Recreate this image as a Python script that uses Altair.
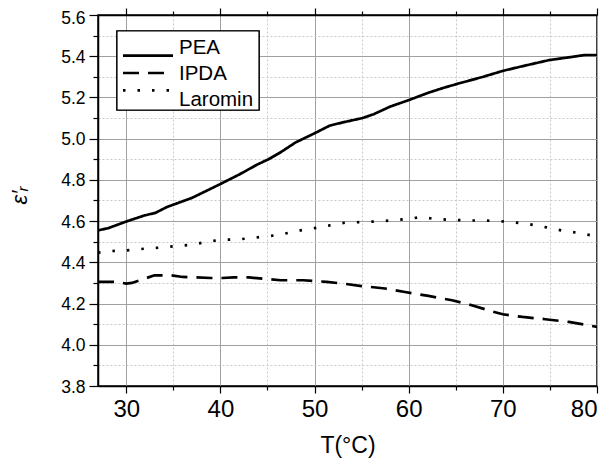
import altair as alt
import pandas as pd

T_PEA = [27, 28.1, 30, 31.9, 33.1, 34.3, 37, 40, 42, 43.9, 45.1, 46.4, 48, 50, 51.6, 53, 55.1, 56.3, 58, 60,
         62.1, 63.8, 65.4, 67.9, 70, 72.5, 74.9, 77.4, 78.7, 80]
E_PEA = [4.555, 4.566, 4.598, 4.627, 4.64, 4.668, 4.713, 4.78, 4.826, 4.874, 4.90, 4.934, 4.982, 5.026, 5.063,
         5.079, 5.10, 5.119, 5.155, 5.187, 5.223, 5.248, 5.269, 5.30, 5.329, 5.356, 5.381, 5.397, 5.406, 5.406]

T_IPDA = [27, 29, 30, 30.6, 31.9, 33, 34.8, 36, 39, 40.2, 41.4, 43, 44.7, 46.4, 48.8, 51.3, 53, 55, 57.5,
          59.6, 62.1, 64.6, 66.7, 68.7, 70, 72.1, 74.5, 77, 80]
E_IPDA = [4.305, 4.305, 4.297, 4.30, 4.32, 4.337, 4.337, 4.329, 4.324, 4.324, 4.327, 4.327, 4.32, 4.313, 4.313,
          4.305, 4.297, 4.285, 4.273, 4.256, 4.237, 4.216, 4.192, 4.164, 4.148, 4.135, 4.124, 4.111, 4.087]

T_LAR = [27, 28.5, 30, 31.9, 33.5, 35.2, 36.9, 39, 40.2, 41.9, 43.5, 45.2, 46.8, 48.5, 50, 51.6, 53.2, 54.8,
         56.5, 58.2, 59.8, 61.3, 62.9, 64.6, 66.3, 67.9, 69.6, 71.2, 72.9, 74.5, 76.2, 77.8, 80]
E_LAR = [4.447, 4.455, 4.458, 4.466, 4.471, 4.479, 4.485, 4.503, 4.51, 4.511, 4.519, 4.527, 4.539, 4.555, 4.566,
         4.579, 4.592, 4.595, 4.598, 4.603, 4.61, 4.619, 4.61, 4.606, 4.603, 4.603, 4.60, 4.594, 4.584, 4.571,
         4.555, 4.544, 4.526]

SERIES = ["PEA", "IPDA", "Laromin"]
DASHES = [[1, 0], [16, 9], [2.5, 12]]
X_TICKS = [30, 35, 40, 45, 50, 55, 60, 65, 70, 75, 80]
Y_TICKS = [3.8, 3.9, 4.0, 4.1, 4.2, 4.3, 4.4, 4.5, 4.6, 4.7, 4.8, 4.9, 5.0, 5.1, 5.2, 5.3, 5.4, 5.5, 5.6]

rows = []
for name, ts, es in [("PEA", T_PEA, E_PEA), ("IPDA", T_IPDA, E_IPDA), ("Laromin", T_LAR, E_LAR)]:
    for t, e in zip(ts, es):
        rows.append({"T": t, "E": e, "Series": name})
df = pd.DataFrame(rows)
leg_df = pd.DataFrame({"Series": SERIES})

FONT = "Liberation Sans"
x_major = "datum.value % 10 == 0"
y_major = "abs(round(datum.value * 10) % 2) == 0"

x_axis = alt.Axis(
    orient="bottom", values=X_TICKS, title="T(°C)",
    labelExpr=f"{x_major} ? datum.value : ''",
    tickSize={"condition": {"test": x_major, "value": 7}, "value": 4},
    gridDash={"condition": {"test": x_major, "value": []}, "value": [2, 2]},
    gridColor={"condition": {"test": x_major, "value": "#a0a0a0"}, "value": "#c8c8c8"},
    grid=True, tickColor="black", domainColor="black", domainWidth=1.5, tickWidth=1.2,
    labelFont=FONT, labelFontSize=24, labelColor="black", labelPadding=4,
    titleFont=FONT, titleFontSize=23, titleFontWeight="normal", titleColor="black",
    titleBaseline="alphabetic", titleY=66,
)
y_axis = alt.Axis(
    orient="left", values=Y_TICKS, title="ε′ᵣ",
    labelExpr=f"{y_major} ? format(datum.value, '.1f') : ''",
    tickSize={"condition": {"test": y_major, "value": 9}, "value": 5},
    gridDash={"condition": {"test": y_major, "value": []}, "value": [2, 2]},
    gridColor={"condition": {"test": y_major, "value": "#a0a0a0"}, "value": "#c8c8c8"},
    grid=True, tickColor="black", domainColor="black", domainWidth=1.5, tickWidth=1.2,
    labelFont=FONT, labelFontSize=17.5, labelColor="black", labelPadding=4,
    labelOffset={"condition": {"test": "datum.value > 5.55", "value": 3.5}, "value": 1},
    titleFont=FONT, titleFontSize=22, titleFontWeight="normal", titleFontStyle="italic",
    titleColor="black", titleX=-72, titleY=180, titleBaseline="alphabetic", titleAngle=-90,
    titleAlign="center",
)

xs = alt.Scale(domain=[27, 80], nice=False, zero=False)
ys = alt.Scale(domain=[3.8, 5.6], nice=False, zero=False)
dash_scale = alt.Scale(domain=SERIES, range=DASHES)

lines = alt.Chart(df).mark_line(color="black", strokeWidth=2.7, clip=True).encode(
    x=alt.X("T:Q", scale=xs, axis=x_axis),
    y=alt.Y("E:Q", scale=ys, axis=y_axis),
    strokeDash=alt.StrokeDash("Series:N", scale=dash_scale, sort=SERIES, legend=None),
    order=alt.Order("T:Q"),
)

top = alt.Chart(df).mark_line(opacity=0).encode(
    x=alt.X("T:Q", scale=xs, axis=alt.Axis(
        orient="top", values=X_TICKS, labels=False, title=None, grid=False,
        tickSize={"condition": {"test": x_major, "value": 7}, "value": 4},
        tickColor="black", domainColor="black", domainWidth=1.5, tickWidth=1.2)),
    y=alt.Y("E:Q", scale=ys, axis=None),
)

# legend (box, sample lines, labels)
leg_y = alt.Y("Series:N", scale=alt.Scale(domain=SERIES, range=[32, 84], padding=0), axis=None)

leg_box = alt.Chart(leg_df).mark_rect(fill="white", stroke="black", strokeWidth=1.2).encode(
    x=alt.value(19), x2=alt.value(161), y=alt.value(16), y2=alt.value(95),
)
leg_lines = alt.Chart(leg_df).mark_rule(color="black", strokeWidth=2.7).encode(
    x=alt.value(25), x2=alt.value(75), y=leg_y,
    strokeDash=alt.StrokeDash("Series:N", scale=dash_scale, sort=SERIES, legend=None),
)
leg_text = alt.Chart(leg_df).mark_text(
    align="left", baseline="middle", font=FONT, fontSize=20.5, color="black", dy=1
).encode(x=alt.value(81), y=leg_y, text="Series:N")

chart = alt.layer(lines, top, leg_box, leg_lines, leg_text).resolve_axis(
    x="independent", y="independent"
).resolve_scale(y="independent").properties(
    width=499, height=371,
    autosize=alt.AutoSizeParams(type="none"),
    padding={"left": 90, "top": 7, "right": 7, "bottom": 72},
).configure_view(stroke="black", strokeWidth=1.5)

chart.save("out.html", embed_options={"renderer": "svg", "actions": False})
